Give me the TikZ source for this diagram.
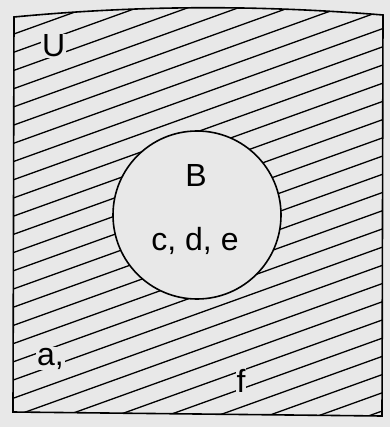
\documentclass[tikz,border=0pt]{standalone}
\usepackage{fontspec}
\setmainfont{Liberation Sans}
\definecolor{paper}{RGB}{232,232,232}
\tikzset{
    setlabel/.style={font=\fontsize{32}{36}\selectfont, inner sep=1pt, fill=paper},
    hatchline/.style={line width=1.3pt},
    setborder/.style={line width=1.6pt}
}

\begin{document}
\begin{tikzpicture}[x=1pt, y=-1pt]
    \fill[paper] (0,0) rectangle (390,427);
    \useasboundingbox (0,0) rectangle (390,427);

    % universe U
    \coordinate (ul) at (14,17);
    \coordinate (ur) at (383,15);
    \coordinate (lr) at (382,416);
    \coordinate (ll) at (13,412);

    % hatching outside B
    \begin{scope}[even odd rule]
        \clip (ul) .. controls (140,5) and (260,5) .. (ur) -- (lr) -- (ll) -- cycle
            (197,215) circle (84);
        \foreach \i in {1,...,30}
            \draw[hatchline] (0,{2.6+18.2*\i}) -- (390,{2.6+18.2*\i-140.4});
    \end{scope}

    \draw[setborder] (ul) .. controls (140,5) and (260,5) .. (ur) -- (lr) -- (ll) -- cycle;

    % set B
    \node[circle, draw, setborder, minimum size=168pt, inner sep=0pt] (setB) at (197,215) {};
    \node[font=\fontsize{32}{36}\selectfont, anchor=base] (nameB) at (196,187) {B};
    \node[font=\fontsize{32}{36}\selectfont, anchor=base] (elemB) at (195,250) {c, d, e};

    % labels outside B
    \node[setlabel, anchor=base west] (nameU) at (41,57) {U};
    \node[setlabel, anchor=base west] (elemA) at (36,365) {a,};
    \node[setlabel, anchor=base] (elemF) at (241,392) {f};
\end{tikzpicture}
\end{document}
